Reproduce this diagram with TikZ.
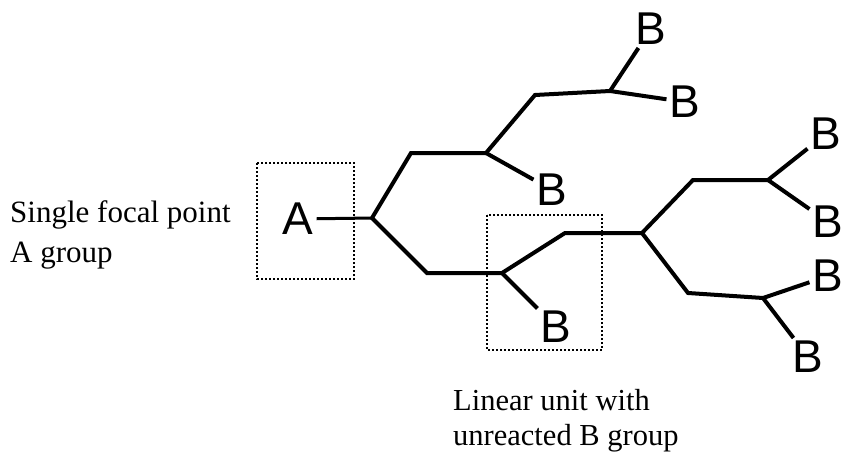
\documentclass[tikz,border=0pt]{standalone}
\usepackage{fontspec}
\setmainfont{Liberation Serif}
\newfontfamily\letterfont{Liberation Sans}
\usetikzlibrary{positioning}

\begin{document}
\begin{tikzpicture}[x=1pt,y=-1pt,
  bond/.style={line width=4pt},
  group/.style={font=\letterfont\fontsize{46}{46}\selectfont,inner sep=3pt},
  caption/.style={align=left,inner sep=0pt,anchor=west},
  focusbox/.style={line width=1.8pt,dash pattern=on 1.8pt off 2.2pt}]
  \useasboundingbox (0,0) rectangle (845,455);
  % End groups
  \node[group] (a) at (298,219) {A};
  \node[group] (b1) at (651,29) {B};
  \node[group] (b2) at (685,102) {B};
  \node[group] (b3) at (552,190) {B};
  \node[group] (b4) at (556,327) {B};
  \node[group] (b5) at (826,134) {B};
  \node[group] (b6) at (828,222) {B};
  \node[group] (b7) at (828,276) {B};
  \node[group] (b8) at (808,357) {B};
  % Branch points and bends
  \coordinate (p1) at (372,218);
  \coordinate (k1) at (411,153);
  \coordinate (p2) at (486,153);
  \coordinate (k2) at (535,95);
  \coordinate (p3) at (610,91);
  \coordinate (k3) at (427,273);
  \coordinate (p4) at (502,273);
  \coordinate (k4) at (565,233);
  \coordinate (p5) at (642,233);
  \coordinate (k5) at (693,180);
  \coordinate (p6) at (768,180);
  \coordinate (k6) at (688,293);
  \coordinate (p7) at (763,298);
  % Bonds
  \draw[line width=3pt] (a) -- (p1);
  \draw[bond] (p2) -- (k1) -- (p1) -- (k3) -- (p4) -- (k4) -- (p5) -- (k5) -- (p6);
  \draw[bond] (p2) -- (k2) -- (p3) -- (b2);
  \draw[bond] (p3) -- (b1);
  \draw[bond] (p2) -- (b3);
  \draw[bond] (p4) -- (b4);
  \draw[bond] (p5) -- (k6) -- (p7) -- (b7);
  \draw[bond] (p7) -- (b8);
  \draw[bond] (b5) -- (p6) -- (b6);
  % Highlight boxes
  \draw[focusbox] (257,163) rectangle (354,279);
  \draw[focusbox] (487,215) rectangle (602,350);
  % Captions
  \node[caption,font=\fontsize{31}{40}\selectfont] (focal) at (10,235)
    {Single focal point\\A group};
  \node[caption,font=\fontsize{30.5}{35}\selectfont] (linear) at (453,421)
    {Linear unit with\\unreacted B group};
\end{tikzpicture}
\end{document}
